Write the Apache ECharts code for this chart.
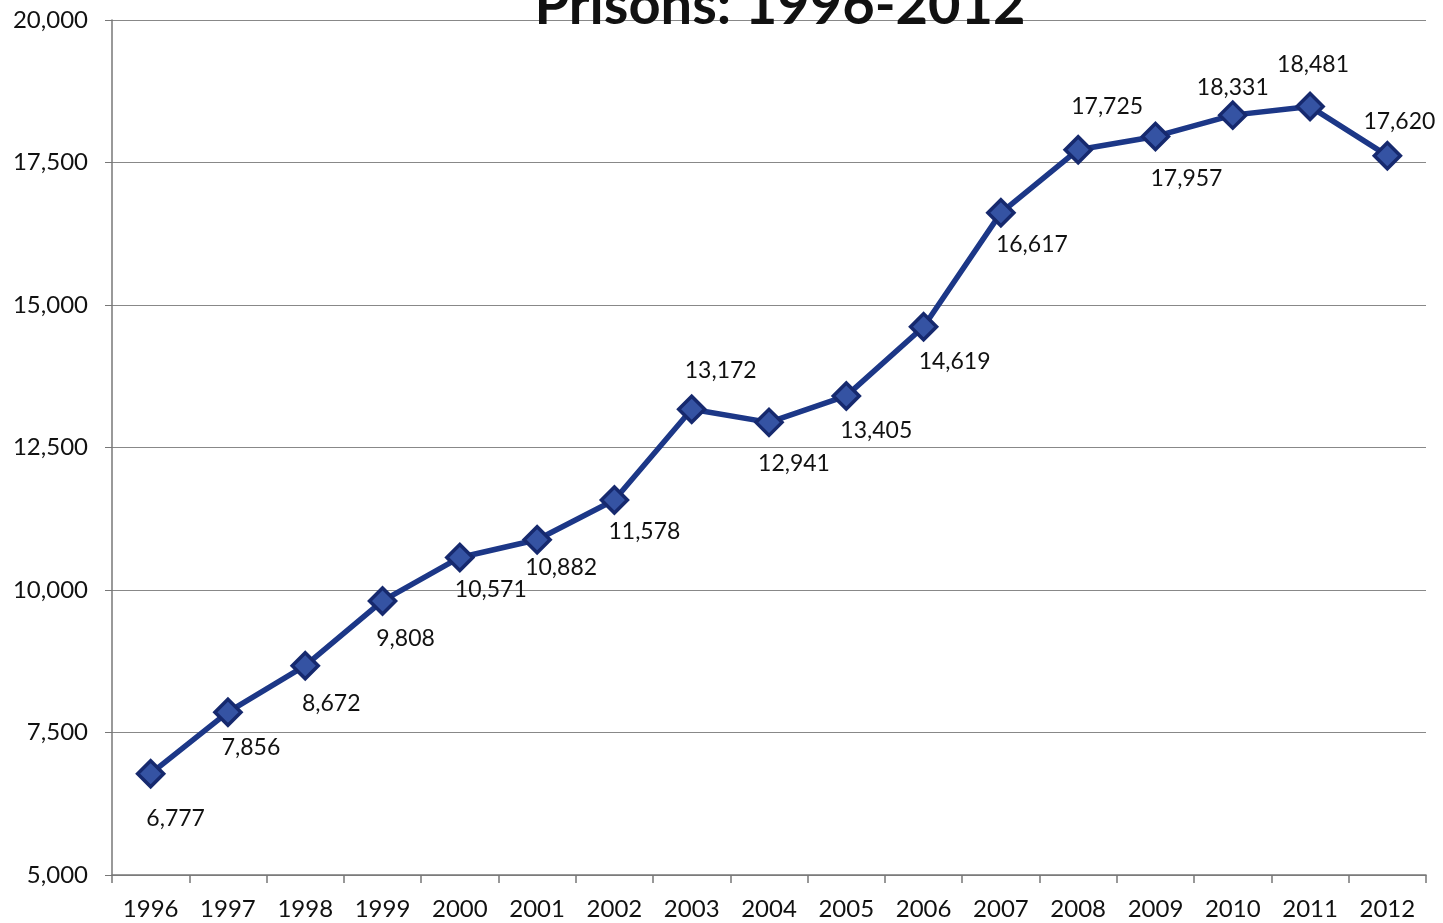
<!DOCTYPE html>
<html>
<head>
<meta charset="utf-8">
<script src="https://cdn.jsdelivr.net/npm/echarts@6/dist/echarts.min.js"></script>
<style>
  html, body { margin: 0; padding: 0; background: #fff; }
  #chart { width: 1443px; height: 923px; }
</style>
</head>
<body>
<div id="chart"></div>
<script>
// Prison population by year
const years = ['1996','1997','1998','1999','2000','2001','2002','2003','2004','2005','2006','2007','2008','2009','2010','2011','2012'];
const inmates = [6777, 7856, 8672, 9808, 10571, 10882, 11578, 13172, 12941, 13405, 14619, 16617, 17725, 17957, 18331, 18481, 17620];
// label placement for each point: [dx, dy]
const labelOffsets = [
  [25, 45], [23, 35], [26, 38], [23, 38], [31, 32], [24, 28], [30, 32], [29, -39],
  [25, 41], [30, 35], [31, 35], [31, 32], [29, -43], [31, 42], [0, -28], [3, -42], [12, -34]
];

const chart = echarts.init(document.getElementById('chart'), null, { renderer: 'canvas' });
const fontFam = 'Lato, "Open Sans", sans-serif';

chart.setOption({
  animation: false,
  backgroundColor: '#ffffff',
  graphic: [{
    type: 'text',
    x: 780,
    y: 34,
    style: {
      text: 'Prisons: 1996-2012',
      font: 'bold 56px ' + fontFam,
      fill: '#111',
      textAlign: 'center',
      textVerticalAlign: 'bottom'
    },
    z: 10
  }],
  grid: { left: 112, right: 17, top: 20, bottom: 48 },
  xAxis: {
    type: 'category',
    data: years,
    boundaryGap: true,
    axisLine: { lineStyle: { color: '#777', width: 1.5 } },
    axisTick: { show: true, length: 8, lineStyle: { color: '#777', width: 1.5 } },
    axisLabel: { color: '#111', fontSize: 24, fontFamily: fontFam, margin: 22 }
  },
  yAxis: {
    type: 'value',
    min: 5000, max: 20000, interval: 2500,
    axisLine: { show: true, lineStyle: { color: '#777', width: 1.5 } },
    axisTick: { show: true, length: 7, lineStyle: { color: '#777' } },
    axisLabel: {
      color: '#111', fontSize: 24, fontFamily: fontFam, margin: 24,
      formatter: v => v.toLocaleString('en-US')
    },
    splitLine: { lineStyle: { color: '#888', width: 1.2 } }
  },
  series: [{
    type: 'line',
    data: inmates.map((v, i) => ({
      value: v,
      label: { offset: labelOffsets[i] }
    })),
    lineStyle: { color: '#1c3787', width: 5.5 },
    symbol: 'diamond',
    symbolSize: 26,
    itemStyle: { color: '#3553a3', borderColor: '#16296e', borderWidth: 3.5 },
    label: {
      show: true,
      position: 'inside',
      color: '#111',
      fontSize: 23,
      fontFamily: fontFam,
      formatter: p => p.value.toLocaleString('en-US')
    },
    z: 5
  }]
});
</script>
</body>
</html>
